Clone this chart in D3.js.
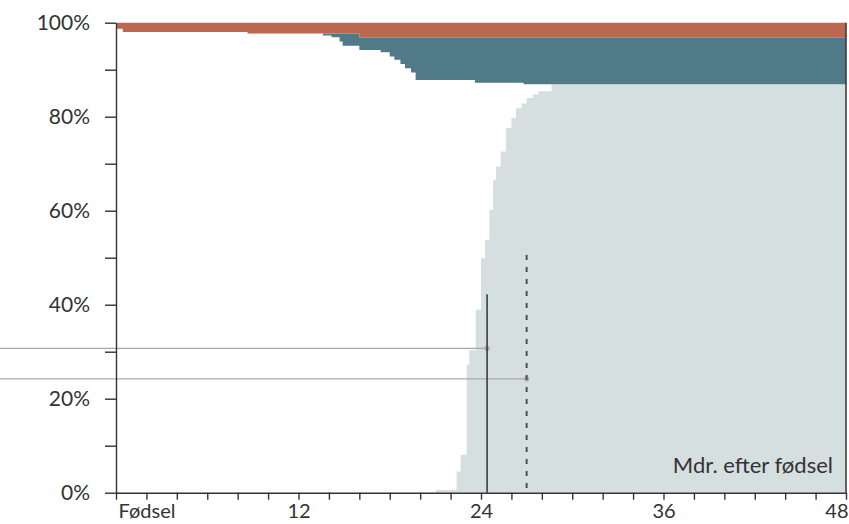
<!DOCTYPE html>
<html>
<head>
<meta charset="utf-8">
<script src="https://cdn.jsdelivr.net/npm/d3@7"></script>
<style>
  html, body { margin: 0; padding: 0; background: #ffffff; }
  svg { display: block; }
  text { font-family: "Lato", "Open Sans", sans-serif; fill: #333333; }
</style>
</head>
<body>
<svg id="chart" width="849" height="524"></svg>
<script>
// ---- Data (months after birth, cumulative percentages) ----
const lightMonths = [0, 21.04, 22.4, 22.66, 23.06, 23.23, 23.65, 24.0, 24.26, 24.55, 24.8, 24.98, 25.29, 25.64, 26.0, 26.3, 26.67, 27.0, 27.4, 27.77, 28.64];
const lightValues = [0, 0.6, 4.5, 8.1, 27.2, 30.3, 38.9, 49.9, 53.8, 60.2, 66.6, 69.4, 72.6, 77.6, 79.7, 81.8, 82.8, 84.0, 84.7, 85.4, 86.9];

const tealMonths = [0, 13.6, 14.17, 14.7, 14.9, 16.0, 17.4, 18.0, 18.3, 18.7, 19.0, 19.4, 19.7, 23.6, 26.8];
const tealValues = [0, 0.4, 0.8, 1.7, 2.6, 2.6, 3.1, 4.0, 4.7, 5.6, 6.5, 7.4, 9.0, 9.6, 9.9];

const orangeMonths = [0, 0.45, 8.65, 16.0];
const orangeValues = [1.3, 2.0, 2.3, 3.2];

const markerMonths = [24.4, 27.0];
const markerTops = [42.2, 50.6];
const markerLevels = [30.7, 24.2];

const xTickValues = [0, 2, 4, 6, 8, 10, 12, 14, 16, 18, 20, 22, 24, 26, 28, 30, 32, 34, 36, 38, 40, 42, 44, 46, 48];
const xTickLabels = {0: "Fødsel", 12: "12", 24: "24", 36: "36", 48: "48"};
const yTickValues = [0, 10, 20, 30, 40, 50, 60, 70, 80, 90, 100];
const yTickLabels = {0: "0%", 20: "20%", 40: "40%", 60: "60%", 80: "80%", 100: "100%"};
const xAxisTitle = "Mdr. efter fødsel";

// ---- Setup ----
const svg = d3.select("#chart");
const x = d3.scaleLinear().domain([0, 48]).range([116, 846]);
const y = d3.scaleLinear().domain([0, 100]).range([492.7, 22.7]);

function stepAt(months, values, t) {
  let v = values[0];
  for (let i = 0; i < months.length; i++) if (months[i] <= t) v = values[i];
  return v;
}

const colLight = "#d6dfdf", colTeal = "#517a89", colOrange = "#bb6752";

// light area (bottom)
const lightPts = lightMonths.map((m, i) => ({m, v: lightValues[i]})).filter(d => d.m >= 21);
lightPts.push({m: 48, v: lightValues[lightValues.length - 1]});
svg.append("path")
  .datum(lightPts)
  .attr("fill", colLight)
  .attr("d", d3.area().curve(d3.curveStepAfter)
    .x(d => x(d.m)).y0(y(0)).y1(d => y(d.v)));

// teal band
const tealBreaks = Array.from(new Set(tealMonths.concat(orangeMonths)))
  .filter(m => m >= 13.6).sort((a, b) => a - b);
tealBreaks.push(48);
const tealPts = tealBreaks.map(m => {
  const o = stepAt(orangeMonths, orangeValues, m);
  const t = stepAt(tealMonths, tealValues, m);
  return {m, top: 100 - o, bot: 100 - o - t};
});
svg.append("path")
  .datum(tealPts)
  .attr("fill", colTeal)
  .attr("d", d3.area().curve(d3.curveStepAfter)
    .x(d => x(d.m)).y0(d => y(d.bot)).y1(d => y(d.top)));

// orange band
const orangePts = orangeMonths.map((m, i) => ({m, v: orangeValues[i]}));
orangePts.push({m: 48, v: orangeValues[orangeValues.length - 1]});
svg.append("path")
  .datum(orangePts)
  .attr("fill", colOrange)
  .attr("d", d3.area().curve(d3.curveStepAfter)
    .x(d => x(d.m)).y0(d => y(100 - d.v)).y1(y(100)));

// horizontal reference lines + dots
markerMonths.forEach((m, i) => {
  svg.append("line")
    .attr("x1", 0).attr("x2", x(m))
    .attr("y1", y(markerLevels[i])).attr("y2", y(markerLevels[i]))
    .attr("stroke", "#a9a9a9").attr("stroke-width", 1.2);
  svg.append("circle")
    .attr("cx", x(m)).attr("cy", y(markerLevels[i])).attr("r", 2.6)
    .attr("fill", "#adadad");
});

// vertical markers
svg.append("line")
  .attr("x1", x(markerMonths[0])).attr("x2", x(markerMonths[0]))
  .attr("y1", y(markerTops[0])).attr("y2", y(0))
  .attr("stroke", "#333").attr("stroke-width", 1.5);
svg.append("line")
  .attr("x1", x(markerMonths[1])).attr("x2", x(markerMonths[1]))
  .attr("y1", y(markerTops[1])).attr("y2", y(0))
  .attr("stroke", "#4a4a4a").attr("stroke-width", 1.9)
  .attr("stroke-dasharray", "5,7");

// right border line
svg.append("line")
  .attr("x1", x(48)).attr("x2", x(48))
  .attr("y1", y(100)).attr("y2", y(0))
  .attr("stroke", "#333").attr("stroke-width", 1.5);

// y axis
const yAxis = d3.axisLeft(y).tickValues(yTickValues).tickSize(11).tickSizeOuter(0).tickPadding(15)
  .tickFormat(d => yTickLabels[d] || "");
const gy = svg.append("g").attr("transform", `translate(${x(0)},0)`).call(yAxis);
gy.selectAll("path, line").attr("stroke", "#333").attr("stroke-width", 1.4);
gy.selectAll("text").attr("font-size", 21).attr("font-family", "Lato").attr("fill", "#333");

// x axis
const xAxis = d3.axisBottom(x).tickValues(xTickValues).tickSize(7).tickSizeOuter(0)
  .tickFormat(d => xTickLabels[d] || "");
const gx = svg.append("g").attr("transform", `translate(0,${y(0)})`).call(xAxis);
gx.selectAll("path, line").attr("stroke", "#333").attr("stroke-width", 1.4);
gx.selectAll("text").attr("font-size", 20).attr("font-family", "Lato").attr("fill", "#333")
  .attr("y", 11).attr("dy", "0.71em");
gx.selectAll(".tick").filter(d => d === 0).select("text")
  .attr("text-anchor", "start").attr("x", 2);
gx.selectAll(".tick").filter(d => d === 48).select("text")
  .attr("text-anchor", "end").attr("x", 2);

// x axis title
svg.append("text")
  .attr("x", 833).attr("y", 473)
  .attr("text-anchor", "end")
  .attr("font-size", 22)
  .text(xAxisTitle);
</script>
</body>
</html>
